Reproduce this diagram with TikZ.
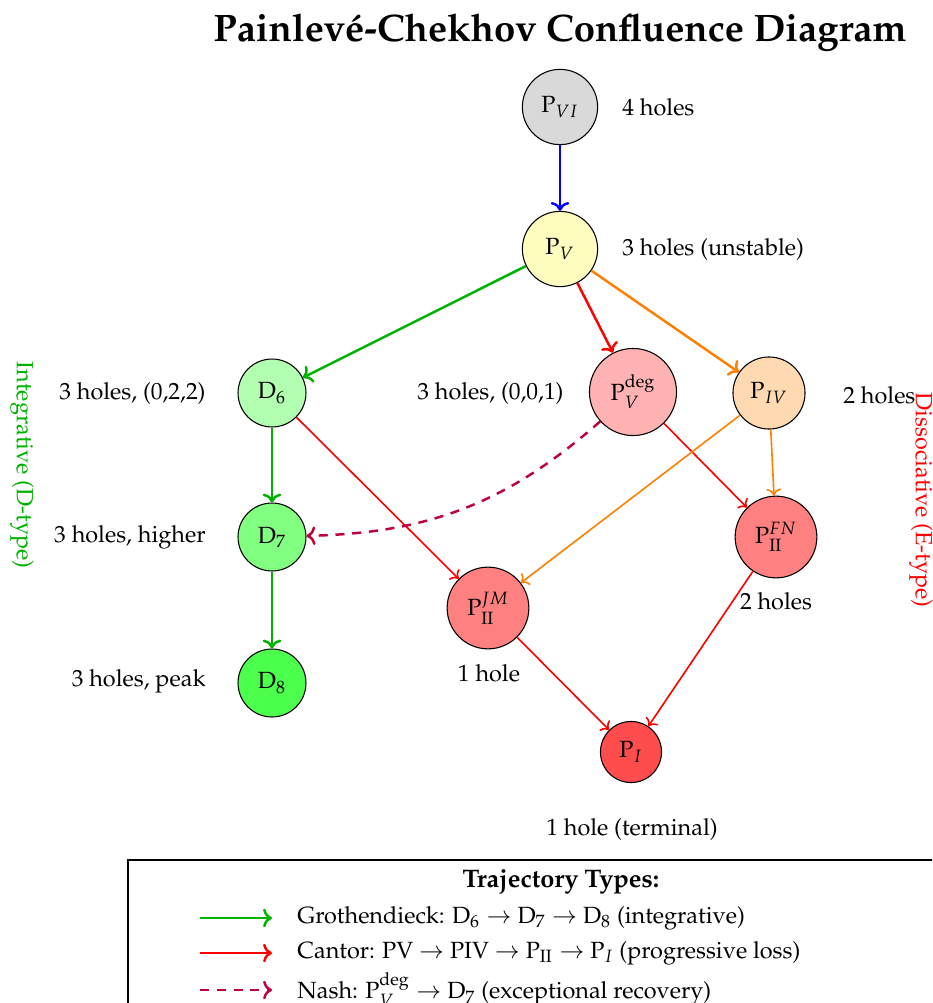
\documentclass[tikz,border=0pt]{standalone}
\usepackage[T1]{fontenc}
\usepackage{mathpazo}
\usepackage{amsmath}
\usetikzlibrary{arrows.meta}
\begin{document}
\begin{tikzpicture}[x=0.465pt,y=-0.465pt,
  every node/.style={font=\fontsize{10.9}{13}\selectfont},
  st/.style={circle,draw,inner sep=1pt,line width=0.5pt},
  lab/.style={inner sep=0pt},
  thk/.style={->,line width=1.15pt},
  thn/.style={->,line width=0.75pt},
  nash/.style={thk,nashc,dash pattern=on 4.2pt off 3.6pt},
]
\useasboundingbox (0,0) rectangle (932,1003);
\clip (0,0) rectangle (932,1003);
\definecolor{nashc}{rgb}{0.75,0,0.25}

\node[font=\fontsize{17.8}{21}\selectfont\bfseries] (title) at (560,33) {Painlev\'e-Chekhov Confluence Diagram};

\node[st,fill=gray!30,minimum size=35pt] (p6) at (560,107) {P$_{VI}$};
\node[st,fill=yellow!25,minimum size=35pt] (p5) at (560,249) {P$_V$};
\node[st,fill=green!30,minimum size=31.6pt] (d6) at (272,393) {D$_6$};
\node[st,fill=red!30,minimum size=40.5pt] (p5d) at (633,392) {P$^{\text{deg}}_V$};
\node[st,fill=orange!30,minimum size=33.5pt] (p4) at (769,393) {P$_{IV}$};
\node[st,fill=green!50,minimum size=31.6pt] (d7) at (272,537) {D$_7$};
\node[st,fill=green!70,minimum size=31.6pt] (d8) at (272,683) {D$_8$};
\node[st,fill=red!50,minimum size=38pt] (p2j) at (488,608) {P$^{JM}_{\mathrm{II}}$};
\node[st,fill=red!50,minimum size=38pt] (p2f) at (776,537) {P$^{FN}_{\mathrm{II}}$};
\node[st,fill=red!70,minimum size=28.4pt] (p1) at (631,752) {P$_I$};

\node[lab,anchor=west] (l6) at (622,107) {4 holes};
\node[lab,anchor=west] (l5) at (622,249) {3 holes (unstable)};
\node[lab,anchor=east] (ld6) at (206,393) {3 holes, (0,2,2)};
\node[lab,anchor=east] (l5d) at (564,393) {3 holes, (0,0,1)};
\node[lab,anchor=west] (l4) at (843,395) {2 holes};
\node[lab,anchor=east] (ld7) at (206,537) {3 holes, higher};
\node[lab,anchor=east] (ld8) at (206,681) {3 holes, peak};
\node[lab] (l2j) at (489,673) {1 hole};
\node[lab] (l2f) at (776,601) {2 holes};
\node[lab] (l1) at (632,829) {1 hole (terminal)};

\node[rotate=-90,text=green!70!black,lab] (int) at (22,465) {Integrative (D-type)};
\node[rotate=-90,text=red,lab] (dis) at (921,500) {Dissociative (E-type)};

\draw[thk,blue] (p6) -- (p5);
\draw[thk,green!70!black] (p5) -- (d6);
\draw[thk,red] (p5) -- (p5d);
\draw[thk,orange] (p5) -- (p4);
\draw[thk,green!70!black] (d6) -- (d7);
\draw[thk,green!70!black] (d7) -- (d8);
\draw[thn,red] (d6) -- (p2j);
\draw[thn,red] (p5d) -- (p2f);
\draw[thn,orange] (p4) -- (p2j);
\draw[thn,orange] (p4) -- (p2f);
\draw[thn,red] (p2j) -- (p1);
\draw[thn,red] (p2f) -- (p1);
\draw[nash] (p5d) to[bend left=20] (d7);

% legend
\draw[line width=0.8pt] (128,860) rectangle (994,1040);
\node[font=\fontsize{11.8}{14}\selectfont\bfseries] (lt) at (561,882) {Trajectory Types:};
\coordinate (a1) at (200,918); \coordinate (b1) at (272,918);
\coordinate (a2) at (200,953); \coordinate (b2) at (272,953);
\coordinate (a3) at (200,990); \coordinate (b3) at (272,990);
\draw[thk,green!70!black] (a1) -- (b1);
\draw[thk,red] (a2) -- (b2);
\draw[nash] (a3) -- (b3);
\node[lab,anchor=west] (t1) at (297,918) {Grothendieck: D$_6 \to$ D$_7 \to$ D$_8$ (integrative)};
\node[lab,anchor=west] (t2) at (297,953) {Cantor: PV $\to$ PIV $\to$ P$_{\mathrm{II}} \to$ P$_I$ (progressive loss)};
\node[lab,anchor=west] (t3) at (297,990) {Nash: P$_V^{\text{deg}} \to$ D$_7$ (exceptional recovery)};
\end{tikzpicture}
\end{document}
